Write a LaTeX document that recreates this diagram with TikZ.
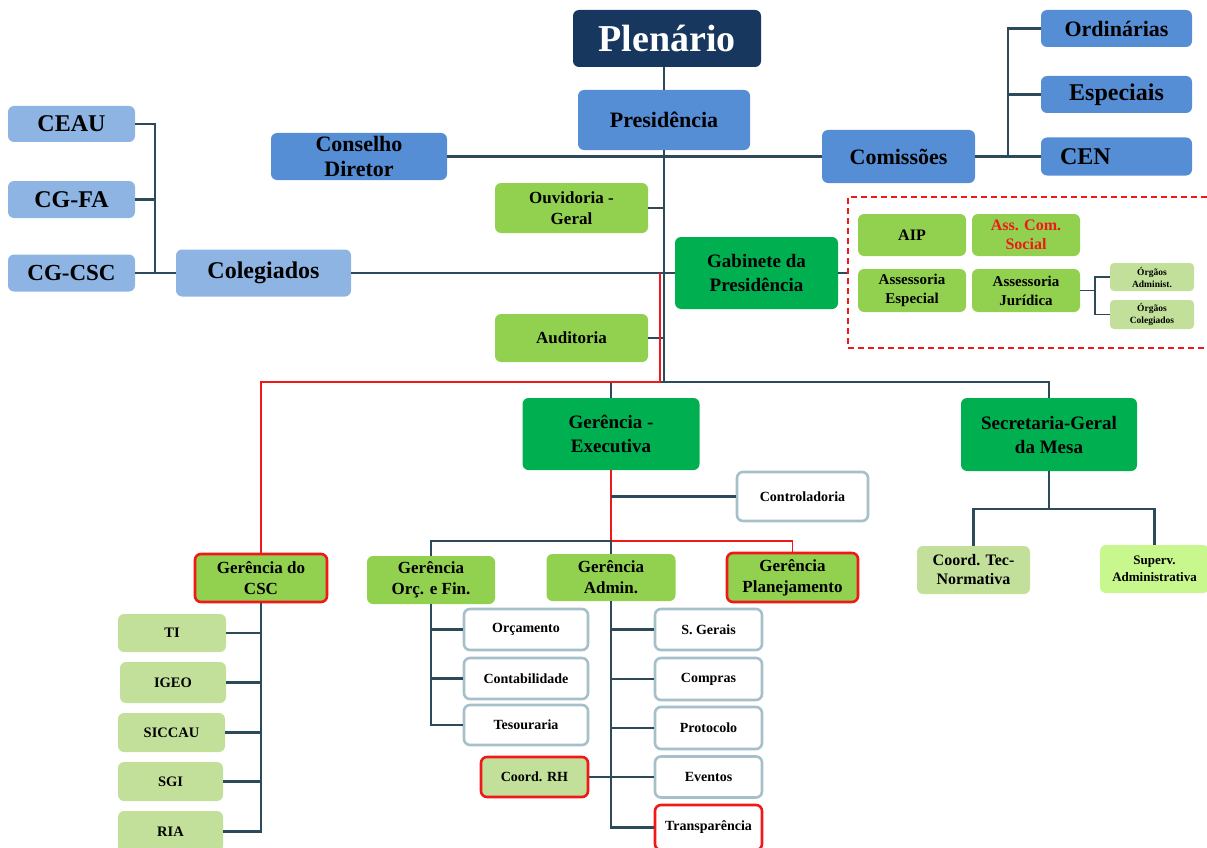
\documentclass[tikz,border=0pt]{standalone}
\usepackage{fontspec}
\setmainfont{Liberation Serif}
\definecolor{navy}{HTML}{17375E}
\definecolor{blueA}{HTML}{558ED5}
\definecolor{blueL}{HTML}{8EB4E3}
\definecolor{greenA}{HTML}{92D050}
\definecolor{greenD}{HTML}{00B050}
\definecolor{greenL}{HTML}{C3E09A}
\definecolor{greenS}{HTML}{C8F78E}
\definecolor{linec}{HTML}{2C4A5A}
\definecolor{bordc}{HTML}{A5C0C8}
\definecolor{redc}{HTML}{F01818}
\newcommand\fsz[2]{\fontsize{#1}{#2}\selectfont\bfseries}
\begin{document}
\begin{tikzpicture}[x=1pt,y=-1pt,
  box/.style={rounded corners=6pt, inner sep=0pt, align=center},
  wbox/.style={box, fill=white, draw=bordc, line width=2.6pt},
  rbord/.style={draw=redc, line width=2.6pt},
  link/.style={draw=linec, line width=2.2pt},
  thin link/.style={draw=linec, line width=1.6pt},
  redlink/.style={draw=redc, line width=1.6pt}]
\useasboundingbox (0,0) rectangle (1207,848);

% ---------- top ----------
\node[box, fill=navy, text=white, minimum width=188pt, minimum height=57pt, font=\fsz{38}{40}] (plen) at (667,38.5) {Plenário};
\node[box, fill=blueA, minimum width=172pt, minimum height=60pt, font=\fsz{22}{24}] (pres) at (664,120) {Presidência};
\node[box, fill=blueA, minimum width=176pt, minimum height=47pt, font=\fsz{22}{25}] (cons) at (359,156.5) {Conselho\\Diretor};
\node[box, fill=blueA, minimum width=153pt, minimum height=53pt, font=\fsz{22}{24}] (com) at (898.5,156.5) {Comissões};
\node[box, fill=blueA, minimum width=151pt, minimum height=37pt, font=\fsz{22}{24}] (ord) at (1116.5,28.5) {Ordinárias};
\node[box, fill=blueA, minimum width=151pt, minimum height=37pt, font=\fsz{24}{26}] (esp) at (1116.5,94.5) {Especiais};
\node[box, fill=blueA, minimum width=151pt, minimum height=38pt, text width=113pt, align=left, font=\fsz{24}{26}] (cen) at (1116.5,156.5) {CEN};

% ---------- colegiados ----------
\node[box, fill=blueL, minimum width=127pt, minimum height=36pt, font=\fsz{24}{26}] (ceau) at (71.5,124) {CEAU};
\node[box, fill=blueL, minimum width=127pt, minimum height=37pt, font=\fsz{24}{26}] (cgfa) at (71.5,199.5) {CG-FA};
\node[box, fill=blueL, minimum width=127pt, minimum height=37pt, font=\fsz{23}{25}] (cgcsc) at (71.5,273) {CG-CSC};
\node[box, fill=blueL, minimum width=175pt, minimum height=47pt, font=\fsz{24}{26}] (col) at (263.5,273) {Colegiados};

% ---------- presidencia units ----------
\node[box, fill=greenA, minimum width=153pt, minimum height=50pt, font=\fsz{17}{21}] (ouv) at (571.5,208) {Ouvidoria -\\Geral};
\node[box, fill=greenA, minimum width=153pt, minimum height=48pt, font=\fsz{17}{20}] (aud) at (571.5,338) {Auditoria};
\node[box, fill=greenD, minimum width=163pt, minimum height=72pt, font=\fsz{19}{24}] (gab) at (756.5,273) {Gabinete da\\Presidência};

% ---------- dashed group ----------
\node[draw=redc, dashed, dash pattern=on 6pt off 4pt, line width=1.5pt, minimum width=364pt, minimum height=151pt, inner sep=0pt] (dbox) at (1030,272.5) {};
\node[box, fill=greenA, minimum width=108pt, minimum height=42pt, font=\fsz{16}{19}] (aip) at (912,235) {AIP};
\node[box, fill=greenA, text=redc, minimum width=108pt, minimum height=42pt, font=\fsz{16}{19}] (acs) at (1026,235) {Ass. Com.\\Social};
\node[box, fill=greenA, minimum width=108pt, minimum height=43pt, font=\fsz{15}{19}] (aesp) at (912,290.5) {Assessoria\\Especial};
\node[box, fill=greenA, minimum width=108pt, minimum height=43pt, font=\fsz{15}{19}] (ajur) at (1026,290.5) {Assessoria\\Jurídica};
\node[box, fill=greenL, rounded corners=4pt, minimum width=84pt, minimum height=28pt, font=\fsz{9.5}{12}] (oadm) at (1152,277) {Órgãos\\Administ.};
\node[box, fill=greenL, rounded corners=4pt, minimum width=84pt, minimum height=29pt, font=\fsz{9.5}{12}] (ocol) at (1152,314.5) {Órgãos\\Colegiados};

% ---------- level 2 ----------
\node[box, fill=greenD, minimum width=177pt, minimum height=72pt, font=\fsz{19}{24}] (gex) at (611,434) {Gerência -\\Executiva};
\node[box, fill=greenD, minimum width=176pt, minimum height=73pt, font=\fsz{19}{24}] (sgm) at (1049,434.5) {Secretaria-Geral\\da Mesa};
\node[wbox, minimum width=131pt, minimum height=49pt, font=\fsz{14}{16}] (ctrl) at (802.5,496.5) {Controladoria};

% ---------- gerencias ----------
\node[box, fill=greenA, minimum width=128pt, minimum height=48pt, font=\fsz{17}{21}] (gorc) at (431,580) {Gerência\\Orç. e Fin.};
\node[box, fill=greenA, minimum width=129pt, minimum height=47pt, font=\fsz{17}{21}] (gadm) at (611,577.5) {Gerência\\Admin.};
\node[box, fill=greenA, rbord, minimum width=131pt, minimum height=49pt, font=\fsz{17}{21}] (gpl) at (792.5,577.5) {Gerência\\Planejamento};
\node[box, fill=greenA, rbord, minimum width=132pt, minimum height=48pt, font=\fsz{17}{21}] (gcsc) at (261,578) {Gerência do\\CSC};

% ---------- CSC children ----------
\node[box, fill=greenL, minimum width=108pt, minimum height=38pt, font=\fsz{14.5}{17}] (ti) at (172,633) {TI};
\node[box, fill=greenL, minimum width=106pt, minimum height=41pt, font=\fsz{14.5}{17}] (igeo) at (173,682.5) {IGEO};
\node[box, fill=greenL, minimum width=107pt, minimum height=39pt, font=\fsz{14.5}{17}] (sic) at (171.5,732.5) {SICCAU};
\node[box, fill=greenL, minimum width=105pt, minimum height=39pt, font=\fsz{14.5}{17}] (sgi) at (170.5,781.5) {SGI};
\node[box, fill=greenL, minimum width=105pt, minimum height=41pt, font=\fsz{14.5}{17}] (ria) at (170.5,831.5) {RIA};

% ---------- Orc children ----------
\node[wbox, minimum width=124pt, minimum height=41pt, font=\fsz{14}{16}] (orc) at (526,629.5) {Orçamento};
\node[wbox, minimum width=124pt, minimum height=41pt, font=\fsz{14}{16}] (cont) at (526,678.5) {Contabilidade};
\node[wbox, minimum width=124pt, minimum height=40pt, font=\fsz{14}{16}] (tes) at (526,725) {Tesouraria};
\node[box, fill=greenL, rbord, minimum width=107pt, minimum height=40pt, font=\fsz{14}{16}] (rh) at (534.5,777) {Coord. RH};

% ---------- Admin children ----------
\node[wbox, minimum width=107pt, minimum height=41pt, font=\fsz{14}{16}] (sger) at (708.5,629.5) {S. Gerais};
\node[wbox, minimum width=107pt, minimum height=42pt, font=\fsz{14}{16}] (comp) at (708.5,679) {Compras};
\node[wbox, minimum width=107pt, minimum height=42pt, font=\fsz{14}{16}] (prot) at (708.5,728) {Protocolo};
\node[wbox, minimum width=107pt, minimum height=41pt, font=\fsz{14}{16}] (ev) at (708.5,777) {Eventos};
\node[wbox, draw=redc, minimum width=107pt, minimum height=45pt, font=\fsz{14}{16}] (transp) at (708.5,827.5) {Transparência};

% ---------- Secretaria children ----------
\node[box, fill=greenL, minimum width=113pt, minimum height=48pt, font=\fsz{16}{19}] (ctn) at (973.5,570) {Coord. Tec-\\Normativa};
\node[box, fill=greenS, minimum width=109pt, minimum height=48pt, font=\fsz{13}{17}] (sup) at (1154.5,569) {Superv.\\Administrativa};

% ---------- coordinates ----------
\coordinate (sp) at (664,382);
\coordinate (cb) at (1008,156.5);
\coordinate (colb) at (155,273);
\coordinate (jb) at (1095,290.5);
\coordinate (rj) at (660,273);
\coordinate (rk) at (660,382);
\coordinate (hb) at (611,382);
\coordinate (gb) at (611,541);
\coordinate (sb) at (1049,509);

% ---------- connectors ----------
\draw[link] (plen.south -| pres.north) -- (pres.north);
\draw[link] (pres.south) -- (sp);
\draw[link] (cons.east) -- (com.west);
\draw[link] (com.east) -- (cb);
\draw[link] (ord.west) -| (cb);
\draw[link] (esp.west) -- (esp.west -| cb);
\draw[link] (cen.west) -- (cb);
\draw[link] (ceau.east) -| (colb);
\draw[link] (cgfa.east) -- (cgfa.east -| colb);
\draw[link] (cgcsc.east) -- (col.west);
\draw[link] (col.east) -- (gab.west);
\draw[link] (ouv.east) -- (ouv.east -| sp);
\draw[link] (aud.east) -- (aud.east -| sp);
\draw[link] (gab.east) -- (gab.east -| dbox.west);
\draw[thin link] (ajur.east) -- (jb);
\draw[thin link] (oadm.west) -| (jb);
\draw[thin link] (ocol.west) -| (jb);
\draw[link] (gex.north) -- (hb) -- (hb -| sgm.north) -- (sgm.north);
\draw[redlink] (rj) -- (rk) -| (gcsc.north);
\draw[redlink] (gex.south) -- (gb) -| (gpl.north);
\draw[link] (ctrl.west -| gex.south) -- (ctrl.west);
\draw[link] (gorc.north) |- (gb) -- (gadm.north);
\draw[link] (gorc.south) |- (tes.west);
\draw[link] (orc.west) -- (orc.west -| gorc.south);
\draw[link] (cont.west) -- (cont.west -| gorc.south);
\draw[link] (gadm.south) |- (transp.west);
\draw[link] (sger.west) -- (sger.west -| gadm.south);
\draw[link] (comp.west) -- (comp.west -| gadm.south);
\draw[link] (prot.west) -- (prot.west -| gadm.south);
\draw[link] (rh.east) -- (ev.west);
\draw[link] (gcsc.south) |- (ria.east);
\draw[link] (ti.east) -- (ti.east -| gcsc.south);
\draw[link] (igeo.east) -- (igeo.east -| gcsc.south);
\draw[link] (sic.east) -- (sic.east -| gcsc.south);
\draw[link] (sgi.east) -- (sgi.east -| gcsc.south);
\draw[link] (sgm.south) -- (sb);
\draw[link] (ctn.north) |- (sb) -| (sup.north);
\end{tikzpicture}
\end{document}
